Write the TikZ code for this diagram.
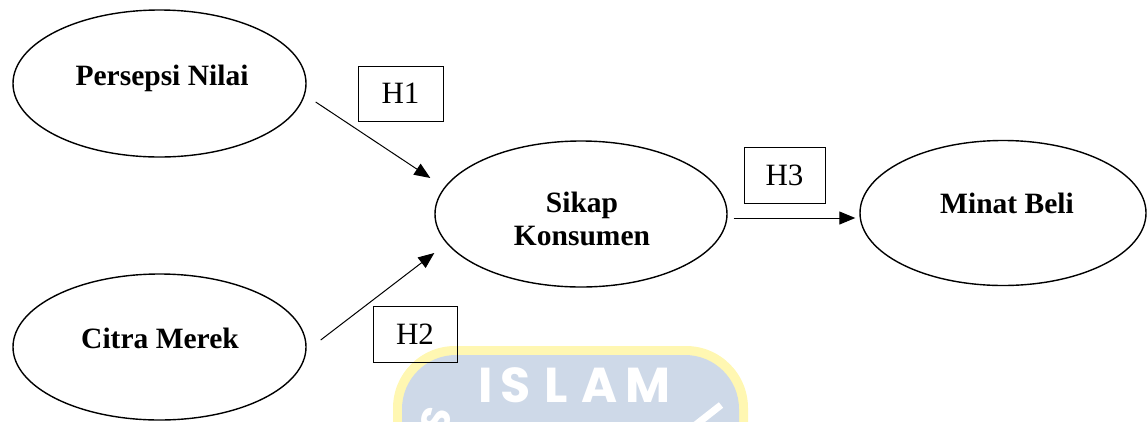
\documentclass[tikz,border=0pt]{standalone}
\usepackage{fontspec}
\setmainfont{Liberation Serif}
\newfontfamily\wmfont{Poppins}
\usetikzlibrary{shapes.geometric,arrows.meta}
\definecolor{wmY}{RGB}{255,247,178}
\definecolor{wmB}{RGB}{206,217,232}
\tikzset{
  ov/.style={draw, ellipse, line width=1.4pt, inner sep=0pt},
  hbox/.style={draw, rectangle, line width=0.9pt, inner sep=0pt,
    font=\fontsize{31}{31}\selectfont},
  lbl/.style={anchor=base, inner sep=0pt, font=\fontsize{29.5}{33}\selectfont\bfseries},
  arr/.style={line width=1pt, -{Triangle[length=16pt,width=13pt]}},
  wmtext/.style={anchor=base, inner sep=0pt, text=white, font=\fontsize{49}{49}\selectfont\wmfont\bfseries},
}
\begin{document}
\begin{tikzpicture}[x=1pt,y=-1pt]
\useasboundingbox (0,0) rectangle (1147,421);
% watermark
\begin{scope}
  \clip (0,0) rectangle (1147,421);
  \fill[wmY, rounded corners=62pt] (393,346) rectangle (748,540);
  \fill[wmB, rounded corners=54pt] (402,355) rectangle (739,540);
  \node[wmtext] (wI) at (486,402) {I};
  \node[wmtext] (wS) at (516,402) {S};
  \node[wmtext] (wL) at (556,402) {L};
  \node[wmtext] (wA) at (600,402) {A};
  \node[wmtext] (wM) at (648,402) {M};
  \node[text=white, inner sep=0pt, rotate=75, font=\fontsize{40}{40}\selectfont\wmfont\bfseries] (wS2) at (436,420) {S};
  \draw[white, line width=7pt] (721,405) -- (670,445);
\end{scope}
% ellipses
\node[ov, minimum width=293pt, minimum height=147pt] (pn) at (159.5,83.5) {};
\node[ov, minimum width=293pt, minimum height=146pt] (cm) at (159.5,347) {};
\node[ov, minimum width=292pt, minimum height=146pt] (sk) at (581,214) {};
\node[ov, minimum width=286pt, minimum height=145pt] (mb) at (1003,213) {};
% labels
\node[lbl] (tpn) at (162,85) {Persepsi Nilai};
\node[lbl] (tcm) at (160,348) {Citra Merek};
\node[lbl] (tsk1) at (582,212) {Sikap};
\node[lbl] (tsk2) at (582,245) {Konsumen};
\node[lbl] (tmb) at (1007,213) {Minat Beli};
% hypothesis boxes
\node[hbox, minimum width=85pt, minimum height=55pt] (h1) at (400.5,93.5) {H1};
\node[hbox, minimum width=84pt, minimum height=56pt] (h2) at (415,334) {H2};
\node[hbox, minimum width=81pt, minimum height=56pt] (h3) at (784.5,175) {H3};
% arrows
\coordinate (a1s) at ([shift={(9,18.5)}]pn.east);
\coordinate (a1e) at ([shift={(-4,-36)}]sk.west);
\coordinate (a2s) at ([shift={(14,-7)}]cm.east);
\coordinate (a2e) at ([shift={(0,39)}]sk.west);
\coordinate (a3s) at ([shift={(6,4)}]sk.east);
\coordinate (a3e) at ([shift={(-4,5)}]mb.west);
\draw[arr] (a1s) -- (a1e);
\draw[arr] (a2s) -- (a2e);
\draw[arr] (a3s) -- (a3e);
\end{tikzpicture}
\end{document}
